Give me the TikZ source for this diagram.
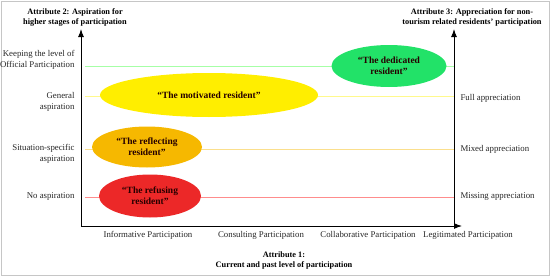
\documentclass[tikz,border=0pt]{standalone}
\usepackage{fontspec}
\setmainfont{Liberation Serif}
\usetikzlibrary{arrows.meta,shapes.geometric}

\definecolor{dedgreen}{RGB}{34,226,104}
\definecolor{motyellow}{RGB}{255,238,0}
\definecolor{refamber}{RGB}{246,184,0}
\definecolor{refred}{RGB}{236,40,40}

\newcommand*{\axleft}{81}
\newcommand*{\axright}{454}
\newcommand*{\axtop}{29}
\newcommand*{\axbottom}{226}

\begin{document}
\begin{tikzpicture}
[
	x=1pt, y=-1pt,
	resident/.style={ellipse,inner sep=0pt,align=center,text=black!85!red,
		font=\fontsize{9.5}{11}\selectfont\bfseries},
	lbl/.style={font=\fontsize{8.8}{11}\selectfont,text=black!85,align=center},
	title/.style={font=\fontsize{8.3}{10}\selectfont\bfseries,align=center},
	axis/.style={line width=1pt,-{Latex[length=8pt,width=6pt]}}
]

	\useasboundingbox (0,0) rectangle (550,276);
	\draw[gray!45,line width=1pt] (1,1) rectangle (549,275);

	% levels
	\foreach \y/\col in {66/green!35,96/yellow!45,149/refamber!45,197/red!45} {
		\draw[\col,line width=0.6pt] (85,\y) -- (\axright,\y);
	}

	% axes
	\coordinate (origin) at (\axleft,\axbottom);
	\coordinate (ltop) at (\axleft,\axtop);
	\coordinate (rbottom) at (\axright,\axbottom);
	\coordinate (rtop) at (\axright,\axtop);
	\coordinate (xend) at (462,\axbottom);
	\draw[axis] (origin) -- (ltop);
	\draw[axis] (rbottom) -- (rtop);
	\draw[axis] (origin) -- (xend);

	\node[title] (att2) at (75,17) {Attribute 2: Aspiration for\\higher stages of participation};
	\node[title] (att3) at (472,17) {Attribute 3: Appreciation for non-\\tourism related residents’ participation};
	\node[title] (att1) at (284,261) {Attribute 1:\\Current and past level of participation};

	% left labels
	\node[lbl,anchor=east,align=right] (keep) at (78,60) {Keeping the level of\\Official Participation};
	\node[lbl,anchor=east,align=right] (general) at (78,102) {General\\aspiration};
	\node[lbl,anchor=east,align=right] (situation) at (78,154) {Situation-specific\\aspiration};
	\node[lbl,anchor=east,align=right] (noasp) at (78,197) {No aspiration};

	% right labels
	\node[lbl,anchor=west] (full) at (457,98) {Full appreciation};
	\node[lbl,anchor=west] (mixed) at (457,149) {Mixed appreciation};
	\node[lbl,anchor=west] (missing) at (457,197) {Missing appreciation};

	% bottom labels
	\foreach \x/\lab in {148/Informative,261/Consulting,368/Collaborative,468/Legitimated} {
		\node[lbl] (\lab) at (\x,235) {\lab\ Participation};
	}

	% residents
	\node[resident,fill=dedgreen,minimum width=115pt,minimum height=42pt] (dedicated) at (389,66) {“The dedicated\\resident”};
	\node[resident,fill=motyellow,minimum width=218pt,minimum height=44pt] (motivated) at (209,95) {“The motivated resident”};
	\node[resident,fill=refamber,minimum width=110pt,minimum height=41pt] (reflecting) at (147,147) {“The reflecting\\resident”};
	\node[resident,fill=refred,minimum width=102pt,minimum height=43pt] (refusing) at (150,196) {“The refusing\\resident”};

\end{tikzpicture}
\end{document}
